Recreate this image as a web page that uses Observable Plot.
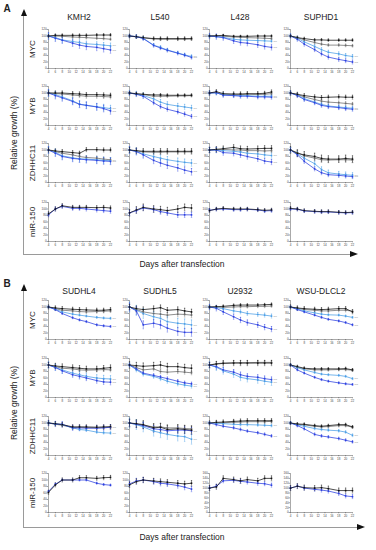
<!DOCTYPE html>
<html><head><meta charset="utf-8">
<script src="https://cdn.jsdelivr.net/npm/d3@7"></script>
<script src="https://cdn.jsdelivr.net/npm/@observablehq/plot@0.6"></script>
<style>
html,body{margin:0;padding:0;background:#fff;}
#root{position:relative;width:376px;height:550px;background:#fff;font-family:"Liberation Sans",Arial,sans-serif;color:#222;overflow:hidden;}
.t{position:absolute;white-space:nowrap;line-height:1;}
</style></head>
<body><div id="root"></div>
<script>
// ---------- data ----------
const days = [4,6,8,11,13,15,18,20,22];
const xTicks = [4,6,8,10,12,14,16,18,20,22];
const yTicks120 = [0,20,40,60,80,100,120];
const yTicks160 = [0,20,40,60,80,100,120,140,160];
const cellsA = ["KMH2","L540","L428","SUPHD1"];
const cellsB = ["SUDHL4","SUDHL5","U2932","WSU-DLCL2"];
const genes = ["MYC","MYB","ZDHHC11","miR-150"];
const seriesNames = ["scr","sh1","sh2","ctrl"];
const seriesColors = ["#6a6a6a","#4a9ee6","#2b3fe0","#111111"];
const endLabels = ["sh1","sh2"];
const yMaxA = [120,120,120,120];
const yMaxB_mir = [120,120,160,160];

// [cell, series, values at days, typical error]
const A_MYC = [
 ["KMH2","ctrl",[100,102,102,102,102,102,103,103,103],4],
 ["KMH2","scr",[100,100,99,97,96,95,93,92,90],4],
 ["KMH2","sh1",[100,95,88,83,80,76,74,72,70],8],
 ["KMH2","sh2",[100,93,87,78,72,68,65,61,57],10],
 ["L540","ctrl",[100,98,95,92,92,92,92,92,92],5],
 ["L540","scr",[100,97,94,91,90,90,90,90,91],4],
 ["L540","sh1",[100,98,93,72,65,57,48,42,37],5],
 ["L540","sh2",[100,98,92,71,63,56,47,41,34],5],
 ["L428","ctrl",[100,101,102,99,99,99,100,100,100],3],
 ["L428","scr",[100,100,99,97,96,95,94,93,92],3],
 ["L428","sh1",[100,98,96,90,88,87,86,85,84],5],
 ["L428","sh2",[100,98,95,85,80,78,73,68,65],8],
 ["SUPHD1","ctrl",[100,95,92,88,88,87,87,87,87],4],
 ["SUPHD1","scr",[100,95,88,80,75,72,72,71,70],4],
 ["SUPHD1","sh1",[100,93,82,68,58,50,45,40,37],6],
 ["SUPHD1","sh2",[100,90,75,58,45,35,28,24,20],6]
];
const A_MYB = [
 ["KMH2","ctrl",[100,100,100,98,97,95,95,94,93],6],
 ["KMH2","scr",[100,98,97,94,92,90,90,89,88],6],
 ["KMH2","sh1",[100,95,88,76,66,62,58,55,52],10],
 ["KMH2","sh2",[100,92,85,74,65,62,57,52,45],10],
 ["L540","ctrl",[100,98,96,94,94,93,93,93,93],4],
 ["L540","scr",[100,97,95,90,90,90,91,91,92],4],
 ["L540","sh1",[100,97,92,82,72,65,60,57,54],8],
 ["L540","sh2",[100,96,90,70,58,50,42,35,28],6],
 ["L428","ctrl",[100,104,98,97,97,98,98,99,103],6],
 ["L428","scr",[100,102,96,95,95,96,95,96,98],5],
 ["L428","sh1",[100,100,95,93,92,92,90,90,90],6],
 ["L428","sh2",[100,101,93,92,90,90,88,88,87],6],
 ["SUPHD1","ctrl",[100,96,92,88,86,87,88,87,87],6],
 ["SUPHD1","scr",[100,95,88,80,75,72,70,68,66],5],
 ["SUPHD1","sh1",[100,93,83,72,65,60,57,55,53],6],
 ["SUPHD1","sh2",[100,92,80,70,62,58,55,52,50],6]
];
const A_ZDHHC11 = [
 ["KMH2","ctrl",[100,97,95,92,90,101,101,100,100],6],
 ["KMH2","scr",[100,95,90,85,80,77,75,72,70],6],
 ["KMH2","sh1",[100,93,82,76,73,72,70,68,67],10],
 ["KMH2","sh2",[100,90,80,74,72,70,68,66,65],10],
 ["L540","ctrl",[100,98,96,96,96,96,96,96,96],8],
 ["L540","scr",[100,97,94,93,93,94,94,94,94],6],
 ["L540","sh1",[100,96,88,80,75,70,65,62,60],10],
 ["L540","sh2",[100,95,85,68,60,53,45,38,33],10],
 ["L428","ctrl",[100,102,104,108,104,103,104,105,105],8],
 ["L428","scr",[100,101,102,100,100,98,98,97,98],6],
 ["L428","sh1",[100,100,98,96,94,90,88,85,83],8],
 ["L428","sh2",[100,100,92,90,85,80,73,66,63],8],
 ["SUPHD1","ctrl",[100,90,85,80,74,72,72,74,72],10],
 ["SUPHD1","scr",[100,92,82,75,70,69,70,70,69],8],
 ["SUPHD1","sh1",[100,88,75,58,40,30,26,24,22],8],
 ["SUPHD1","sh2",[100,85,65,42,30,24,22,20,18],6]
];
const A_MIR = [
 ["KMH2","ctrl",[85,100,110,105,105,105,104,105,103],6],
 ["KMH2","sh2",[82,100,108,102,102,100,97,95,93],6],
 ["L540","ctrl",[88,97,105,100,98,95,100,105,103],10],
 ["L540","sh2",[88,95,103,98,92,88,82,82,82],8],
 ["L428","ctrl",[95,100,102,100,100,100,98,96,97],5],
 ["L428","sh2",[96,99,100,98,98,99,97,94,95],5],
 ["SUPHD1","ctrl",[102,100,95,93,92,92,90,89,90],5],
 ["SUPHD1","sh2",[100,99,94,92,91,91,89,88,89],5]
];
const B_MYC = [
 ["SUDHL4","ctrl",[100,97,95,93,92,91,90,90,92],6],
 ["SUDHL4","scr",[100,95,90,88,86,85,86,87,88],5],
 ["SUDHL4","sh1",[100,93,85,78,75,72,68,66,65],3],
 ["SUDHL4","sh2",[100,92,80,67,60,55,45,42,40],3],
 ["SUDHL5","ctrl",[100,95,92,95,98,90,92,88,85],8],
 ["SUDHL5","scr",[100,92,85,80,78,75,78,77,75],8],
 ["SUDHL5","sh1",[100,90,80,70,65,55,50,48,45],15],
 ["SUDHL5","sh2",[100,88,45,50,45,35,25,22,22],12],
 ["U2932","ctrl",[100,101,102,105,106,106,106,107,108],4],
 ["U2932","scr",[100,100,99,100,101,101,102,102,103],4],
 ["U2932","sh1",[100,98,95,88,85,80,77,75,72],6],
 ["U2932","sh2",[100,96,85,70,60,52,45,38,32],8],
 ["WSU-DLCL2","ctrl",[100,97,95,93,92,93,95,95,85],6],
 ["WSU-DLCL2","scr",[100,96,92,90,88,88,90,90,87],5],
 ["WSU-DLCL2","sh1",[100,94,88,82,78,76,75,72,68],3],
 ["WSU-DLCL2","sh2",[100,92,85,75,68,62,57,52,45],3]
];
const B_MYB = [
 ["SUDHL4","ctrl",[100,97,95,92,90,88,88,90,92],8],
 ["SUDHL4","scr",[100,95,90,88,85,84,85,86,85],6],
 ["SUDHL4","sh1",[100,93,85,75,70,65,60,58,57],10],
 ["SUDHL4","sh2",[100,92,82,70,65,60,52,48,47],8],
 ["SUDHL5","ctrl",[100,98,96,98,100,95,95,92,90],10],
 ["SUDHL5","scr",[100,92,85,88,80,78,80,78,76],6],
 ["SUDHL5","sh1",[100,85,72,65,58,50,42,38,35],6],
 ["SUDHL5","sh2",[100,88,75,68,63,58,50,45,42],5],
 ["U2932","ctrl",[100,103,105,106,106,106,106,106,106],8],
 ["U2932","scr",[100,104,106,107,107,107,108,108,108],6],
 ["U2932","sh1",[100,93,82,72,62,58,54,50,47],10],
 ["U2932","sh2",[100,95,85,78,70,65,62,58,55],8],
 ["WSU-DLCL2","ctrl",[100,95,90,88,88,88,88,89,85],4],
 ["WSU-DLCL2","scr",[100,93,88,85,85,85,86,86,84],4],
 ["WSU-DLCL2","sh1",[100,92,85,77,72,70,68,65,58],3],
 ["WSU-DLCL2","sh2",[100,85,75,62,55,50,45,42,40],3]
];
const B_ZDHHC11 = [
 ["SUDHL4","ctrl",[100,98,95,88,88,88,87,88,89],6],
 ["SUDHL4","scr",[100,96,93,86,87,86,85,86,86],6],
 ["SUDHL4","sh1",[100,97,95,85,80,78,72,70,69],4],
 ["SUDHL4","sh2",[100,97,96,85,85,84,84,85,87],8],
 ["SUDHL5","ctrl",[100,98,95,85,87,80,82,80,78],12],
 ["SUDHL5","scr",[100,97,93,88,88,85,85,83,82],10],
 ["SUDHL5","sh1",[100,95,88,75,70,65,60,58,50],15],
 ["SUDHL5","sh2",[100,96,92,82,80,76,78,78,76],10],
 ["U2932","ctrl",[100,102,103,105,106,107,107,107,107],6],
 ["U2932","scr",[100,101,101,102,103,104,104,104,105],5],
 ["U2932","sh1",[100,99,98,96,95,95,94,93,92],4],
 ["U2932","sh2",[100,95,90,85,80,75,70,65,60],4],
 ["WSU-DLCL2","ctrl",[100,97,96,92,90,92,95,95,88],4],
 ["WSU-DLCL2","scr",[100,96,94,90,88,89,92,92,87],4],
 ["WSU-DLCL2","sh1",[100,94,90,83,80,78,76,72,62],4],
 ["WSU-DLCL2","sh2",[100,92,82,65,60,57,52,47,42],4]
];
const B_MIR = [
 ["SUDHL4","ctrl",[62,85,100,100,107,107,105,107,108],6],
 ["SUDHL4","sh2",[65,87,100,100,100,100,90,86,84],3],
 ["SUDHL5","ctrl",[85,95,100,97,95,93,90,88,90],8],
 ["SUDHL5","sh2",[88,97,100,95,90,88,83,78,72],8],
 ["U2932","ctrl",[100,105,140,135,130,135,130,140,140],10],
 ["U2932","sh2",[100,108,130,132,128,125,120,118,112],8],
 ["WSU-DLCL2","ctrl",[100,108,102,100,102,98,90,90,90],10],
 ["WSU-DLCL2","sh2",[100,108,100,95,92,88,78,68,65],8]
];

// ---------- layout ----------
const root = document.getElementById("root");
const colLeft = [48,129,209,290];
const PW = 62, PH = 39, mL = 12, mR = 10, mT = 3, mB = 8;

function addText(txt, x, y, css, rotate) {
  const d = document.createElement("div");
  d.className = "t";
  d.textContent = txt;
  Object.assign(d.style, css || {});
  d.style.left = x + "px"; d.style.top = y + "px";
  d.style.transform = "translate(-50%,-50%)" + (rotate ? " rotate(-90deg)" : "");
  root.appendChild(d);
}
function addBox(css) {
  const d = document.createElement("div");
  d.style.position = "absolute";
  Object.assign(d.style, css);
  root.appendChild(d);
}

function cellPlot(rows, cell, ymax, left, top) {
  const tidy = [];
  const sorted = rows.filter(r => r[0] === cell)
    .sort((a, b) => seriesNames.indexOf(a[1]) - seriesNames.indexOf(b[1]));
  for (const [c, s, vals, e] of sorted)
    vals.forEach((v, i) => tidy.push({day: days[i], v, s, e}));
  const ends = tidy.filter(d => d.day === days[days.length - 1] && endLabels.includes(d.s) && rows !== A_MIR && rows !== B_MIR);
  const svg = Plot.plot({
    width: mL + PW + mR, height: mT + PH + mB,
    marginLeft: mL, marginRight: mR, marginTop: mT, marginBottom: mB,
    style: {fontSize: "3px", fontFamily: "Liberation Sans, Arial, sans-serif", overflow: "visible", background: "transparent", color: "#444"},
    x: {domain: [4, 22]},
    y: {domain: [0, ymax]},
    color: {domain: seriesNames, range: seriesColors},
    marks: [
      Plot.axisX({ticks: xTicks, tickSize: 1.3, tickPadding: 0.6, label: null, strokeWidth: 0.5}),
      Plot.axisY({ticks: ymax === 160 ? yTicks160 : yTicks120, tickSize: 1.3, tickPadding: 0.6, label: null, strokeWidth: 0.5}),
      Plot.ruleX([4], {stroke: "#555", strokeWidth: 0.5}),
      Plot.ruleY([0], {stroke: "#555", strokeWidth: 0.5}),
      Plot.ruleX(tidy, {x: "day", y1: d => d.v - d.e, y2: d => d.v + d.e, stroke: "s", strokeWidth: 0.45}),
      Plot.link(tidy, {x1: d => d.day - 0.2, x2: d => d.day + 0.2, y1: d => d.v + d.e, y2: d => d.v + d.e, stroke: "s", strokeWidth: 0.45}),
      Plot.link(tidy, {x1: d => d.day - 0.2, x2: d => d.day + 0.2, y1: d => d.v - d.e, y2: d => d.v - d.e, stroke: "s", strokeWidth: 0.45}),
      Plot.lineY(tidy, {x: "day", y: "v", z: "s", stroke: "s", strokeWidth: 0.75}),
      Plot.dot(tidy, {x: "day", y: "v", fill: "s", symbol: "square", r: 0.9}),
      Plot.text(ends, {x: "day", y: "v", text: "s", dx: 2, textAnchor: "start", fill: "#999", fontSize: 2.2})
    ]
  });
  svg.style.position = "absolute";
  svg.style.left = (left - mL) + "px";
  svg.style.top = (top - mT) + "px";
  root.appendChild(svg);
}

function panel(letter, cells, data, rowTops, yMaxes, titleY, arrowTop, frameBottom, frameRight, daysY, relY) {
  addText(letter, 7, arrowTop - 3, {fontSize: "10px", fontWeight: "bold"});
  // frame with arrows
  addBox({left: "23px", top: (arrowTop + 3) + "px", width: "0px", height: (frameBottom - arrowTop - 3) + "px", borderLeft: "1.2px solid #9a9a9a"});
  addBox({left: "23px", top: frameBottom + "px", width: (frameRight - 23) + "px", height: "0px", borderTop: "1.2px solid #9a9a9a"});
  addBox({left: "20.5px", top: (arrowTop - 3) + "px", width: 0, height: 0, borderLeft: "3px solid transparent", borderRight: "3px solid transparent", borderBottom: "7px solid #111"});
  addBox({left: frameRight + "px", top: (frameBottom - 3) + "px", width: 0, height: 0, borderTop: "3.5px solid transparent", borderBottom: "3.5px solid transparent", borderLeft: "8px solid #111"});
  addText("Relative growth (%)", 14, relY, {fontSize: "8.5px"}, true);
  addText("Days after transfection", 182, daysY, {fontSize: "8.5px"});
  cells.forEach((c, ci) => addText(c, colLeft[ci] + PW / 2, titleY, {fontSize: "8.5px"}));
  genes.forEach((g, gi) => {
    addText(g, 33, rowTops[gi] + PH / 2, {fontSize: "8px"}, true);
    cells.forEach((c, ci) => cellPlot(data[gi], c, gi === 3 ? yMaxes[ci] : 120, colLeft[ci], rowTops[gi]));
  });
}

panel("A", cellsA, [A_MYC, A_MYB, A_ZDHHC11, A_MIR], [29, 86, 143, 202], yMaxA, 17, 12, 254, 350, 264, 133);
panel("B", cellsB, [B_MYC, B_MYB, B_ZDHHC11, B_MIR], [300, 358, 416, 473], yMaxB_mir, 291, 287, 527, 357, 537, 403);
</script></body></html>
